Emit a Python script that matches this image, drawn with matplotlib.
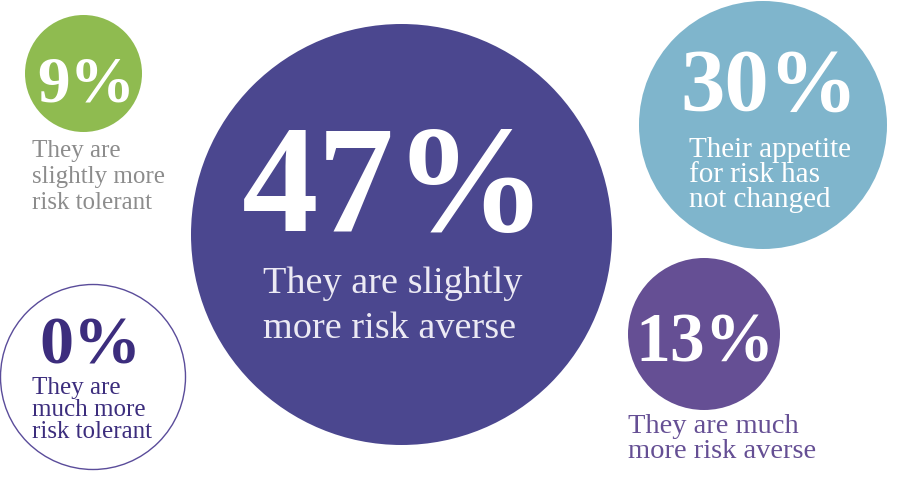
import matplotlib
matplotlib.use("Agg")
import matplotlib.pyplot as plt
from matplotlib.patches import Circle

# ---- data ----
values = [9, 0, 47, 30, 13]
labels = [
    "They are\nslightly more\nrisk tolerant",
    "They are\nmuch more\nrisk tolerant",
    "They are slightly\nmore risk averse",
    "Their appetite\nfor risk has\nnot changed",
    "They are much\nmore risk averse",
]

# ---- layout / style (pixel coordinates, y downward) ----
centers = [(83.5, 73.5), (93, 377), (401.5, 234.5), (763, 125), (704, 334)]
radii = [58.5, 92.5, 210.5, 124, 76]
fills = ["#8FBB50", "none", "#4B478F", "#7FB5CC", "#654F94"]
edges = ["none", "#5A4C9A", "none", "none", "none"]
num_colors = ["white", "#3C2D7D", "white", "white", "white"]
num_pos = [(86, 101), (90, 364), (395, 231), (769, 110), (705, 362)]
num_sizes = [47, 49, 110, 64, 50]
lab_colors = ["#8C8C8C", "#3C2D7D", "#ECEAF4", "white", "#654F94"]
lab_pos = [(32, 157), (32, 394), (263, 293), (689, 157), (628, 433)]
lab_sizes = [18, 18, 27.5, 21, 20.5]
lab_step = [26, 22, 45, 25, 25]

fig = plt.figure(figsize=(9.06, 4.79), dpi=100)
ax = fig.add_axes([0, 0, 1, 1])
ax.set_xlim(0, 906)
ax.set_ylim(479, 0)
ax.set_aspect("equal")
ax.axis("off")

serif = ["Liberation Serif", "DejaVu Serif"]

for i, v in enumerate(values):
    cx, cy = centers[i]
    if fills[i] == "none":
        c = Circle((cx, cy), radii[i], facecolor="none", edgecolor=edges[i], lw=1.0)
    else:
        c = Circle((cx, cy), radii[i], facecolor=fills[i], edgecolor="none")
    ax.add_patch(c)
    nx, ny = num_pos[i]
    ax.text(nx, ny, f"{v}%", ha="center", va="baseline", fontsize=num_sizes[i],
            fontweight="bold", color=num_colors[i], family=serif)
    lx, ly = lab_pos[i]
    for j, line in enumerate(labels[i].split("\n")):
        ax.text(lx, ly + j * lab_step[i], line, ha="left", va="baseline",
                fontsize=lab_sizes[i], color=lab_colors[i], family=serif)

fig.savefig("out.png", dpi=100)
